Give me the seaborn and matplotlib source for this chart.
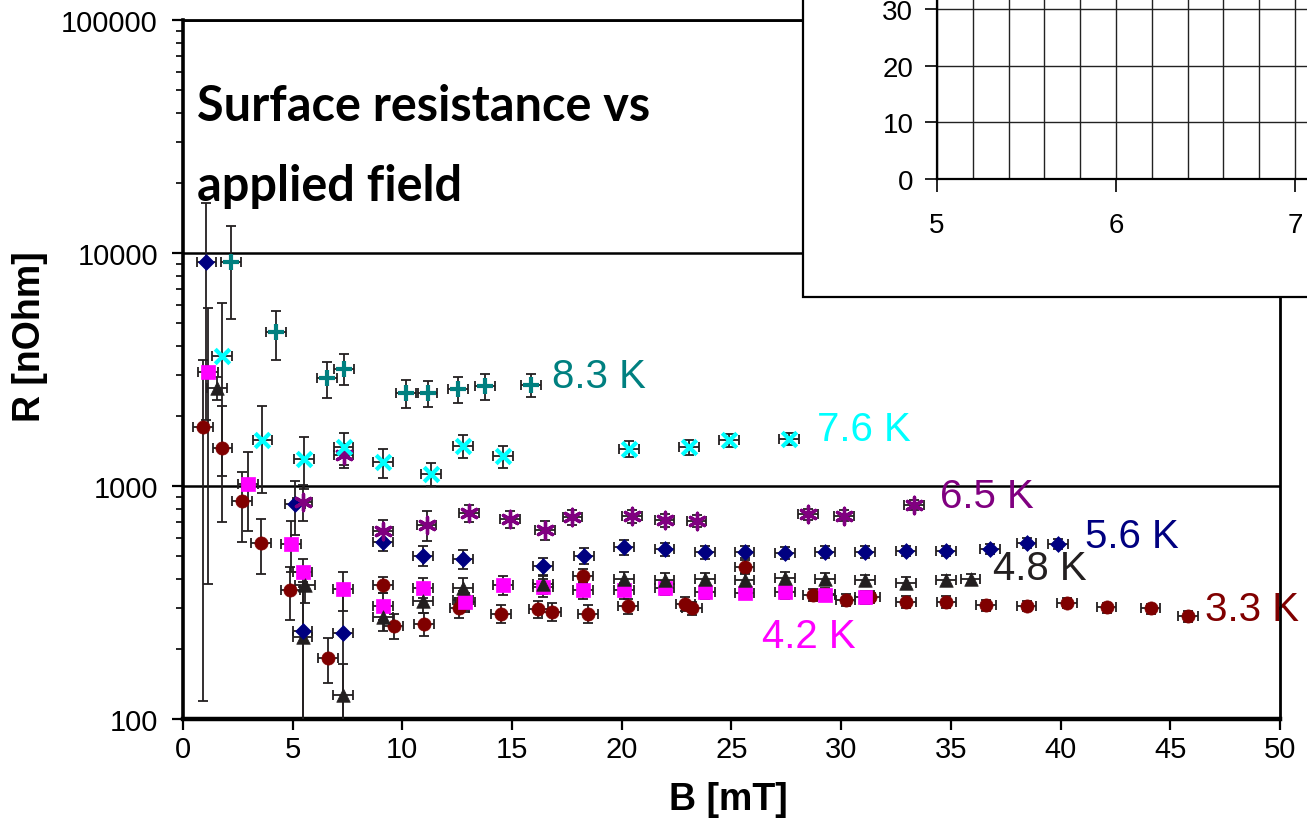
import numpy as np
import matplotlib
matplotlib.use("Agg")
import matplotlib.pyplot as plt
import seaborn as sns
from matplotlib.patches import Rectangle

# surface resistance R [nOhm] vs applied field B [mT], one set per temperature
b_33 = [0.9, 1.8, 2.7, 3.55, 4.9, 6.6, 9.1, 9.6, 11.0, 12.6, 12.75, 14.5, 16.2, 16.8, 18.25, 18.45,
        20.3, 22.9, 23.2, 25.6, 28.7, 29.25, 30.2, 31.3, 32.95, 34.8, 36.6, 38.45, 40.3, 42.1, 44.1, 45.8]
r_33 = [1790, 1450, 860, 570, 357, 183, 376, 251, 256, 300, 325, 283, 297, 289, 412, 283,
        305, 312, 299, 451, 340, 344, 324, 335, 318, 318, 308, 306, 315, 301, 298, 276]
e_33 = [1670, 750, 285, 150, 90, 40, 30, 30, 30, 30, 30, 25, 25, 25, 30, 25,
        22, 22, 20, 28, 20, 20, 20, 20, 18, 18, 16, 16, 16, 15, 15, 14]

b_42 = [1.15, 2.95, 4.92, 5.45, 7.28, 9.13, 10.95, 12.85, 14.6, 16.42, 18.25, 20.1, 21.95, 23.8,
        25.6, 27.44, 29.26, 31.08]
r_42 = [3080, 1020, 566, 428, 360, 306, 366, 318, 377, 367, 356, 356, 365, 350, 348, 350, 340, 333]
e_42 = [2700, 380, 140, 60, 68, 40, 35, 30, 35, 33, 30, 28, 25, 24, 22, 22, 20, 20]

b_48 = [1.56, 5.45, 5.56, 7.28, 9.1, 10.95, 12.78, 16.42, 20.1, 21.95, 23.8, 25.6, 27.44, 29.26,
        31.08, 32.95, 34.78, 35.9]
r_48 = [2640, 224, 376, 127, 273, 320, 366, 380, 399, 395, 399, 393, 402, 399, 393, 383, 393, 399]
e_48 = [300, 130, 60, 45, 35, 35, 35, 35, 30, 28, 26, 25, 24, 24, 22, 22, 20, 20]

b_56 = [1.07, 5.12, 5.45, 7.3, 9.1, 10.95, 12.78, 16.42, 18.28, 20.1, 21.95, 23.8, 25.6, 27.44,
        29.26, 31.08, 32.95, 34.78, 36.78, 38.45, 39.9]
r_56 = [9120, 835, 239, 234, 577, 502, 486, 452, 502, 546, 537, 519, 522, 516, 522, 522, 527, 527,
        537, 568, 564]
e_56 = [7200, 220, 150, 140, 50, 50, 45, 40, 40, 38, 35, 32, 30, 30, 30, 30, 28, 28, 28, 28, 28]

b_65 = [5.45, 7.32, 9.1, 11.1, 13.05, 14.9, 16.5, 17.75, 20.48, 21.95, 23.41, 28.5, 30.14, 33.32]
r_65 = [855, 1358, 643, 680, 764, 721, 647, 734, 741, 711, 709, 758, 746, 828]
e_65 = [150, 160, 70, 100, 65, 60, 60, 55, 50, 45, 45, 40, 40, 40]

b_76 = [1.79, 3.62, 5.5, 7.32, 9.1, 11.3, 12.78, 14.6, 20.33, 23.08, 24.89, 27.63]
r_76 = [3600, 1575, 1300, 1466, 1265, 1127, 1489, 1340, 1443, 1466, 1574, 1592]
e_76 = [2500, 640, 330, 230, 180, 130, 170, 140, 110, 110, 100, 90]

b_83 = [2.2, 4.24, 6.56, 7.34, 10.16, 11.15, 12.55, 13.76, 15.85]
r_83 = [9120, 4560, 2900, 3190, 2506, 2506, 2606, 2680, 2711]
e_83 = [3900, 1100, 510, 490, 340, 320, 330, 330, 300]

B_ERR = 0.45  # field uncertainty, mT

series = [
    # label, B, R, err, color, marker, size, lw, label position
    ("3.3 K", b_33, r_33, e_33, "#800000", "o", 90, 0.5, (46.6, 297)),
    ("4.2 K", b_42, r_42, e_42, "#FF00FF", "s", 90, 0.5, (26.4, 226)),
    ("4.8 K", b_48, r_48, e_48, "#231F20", "^", 95, 0.5, (36.9, 445)),
    ("5.6 K", b_56, r_56, e_56, "#000080", "D", 65, 0.5, (41.1, 610)),
    ("6.5 K", b_65, r_65, e_65, "#800080", (6, 2, 0), 140, 2.4, (34.5, 905)),
    ("7.6 K", b_76, r_76, e_76, "#00FFFF", "x", 110, 3.0, (28.9, 1760)),
    ("8.3 K", b_83, r_83, e_83, "#008080", "+", 140, 3.0, (16.8, 2960)),
]

sns.set_theme(style="ticks")
plt.rcParams['font.family'] = ['Liberation Sans', 'DejaVu Sans']
plt.rcParams.update({'text.color': 'black', 'axes.labelcolor': 'black',
                     'xtick.color': 'black', 'ytick.color': 'black',
                     'xtick.labelcolor': 'black', 'ytick.labelcolor': 'black'})

fig = plt.figure(figsize=(13.07, 8.29), dpi=100)
ax = fig.add_axes([0.1400, 0.1315, 0.8393, 0.8432])

for name, b, r, e, col, mk, s, lw, pos in series:
    ax.errorbar(b, r, yerr=e, xerr=B_ERR, fmt='none', ecolor='#231F20',
                elinewidth=1.3, capsize=3.6, capthick=1.3, zorder=3)
for name, b, r, e, col, mk, s, lw, pos in series:
    sns.scatterplot(x=b, y=r, marker=mk, color=col, s=s, linewidth=lw,
                    edgecolor=col, ax=ax, zorder=4, legend=False)
    ax.text(pos[0], pos[1], name, color=col, fontsize=29, ha='left', va='center',
            clip_on=False, zorder=1)

ax.set_yscale('log')
ax.set_xlim(0, 50)
ax.set_ylim(100, 100000)
ax.set_xticks(np.arange(0, 51, 5))
ax.set_yticks([100, 1000, 10000, 100000])
ax.set_yticklabels(['100', '1000', '10000', '100000'])
ax.yaxis.grid(True, which='major', color='black', linewidth=1.8)
ax.xaxis.grid(False)
ax.tick_params(axis='both', which='major', labelsize=21, length=8, width=1.6,
               color='black', labelcolor='black', direction='out')
ax.tick_params(axis='y', which='major', pad=10)
ax.tick_params(axis='y', which='minor', length=5, width=1.2, color='black', left=True)
for side, w in [('left', 2.6), ('bottom', 3.2), ('top', 2.0), ('right', 2.0)]:
    ax.spines[side].set_linewidth(w)
    ax.spines[side].set_color('black')

ax.set_xlabel('B [mT]', fontsize=27, fontweight='bold', va='center', color='black')
ax.set_ylabel('R [nOhm]', fontsize=27, fontweight='bold', va='center', color='black')
ax.xaxis.set_label_coords(0.497, -0.114)
ax.yaxis.set_label_coords(-0.1395, 0.548)

fig.text(197 / 1307, 1 - 84 / 829, 'Surface resistance vs\napplied field', fontsize=35,
         fontweight='bold', family=['Lato', 'DejaVu Sans'], ha='left', va='top',
         linespacing=1.95, color='black')

# inset panel cropped at the top right corner
box = Rectangle((803 / 1307, 1 - 298 / 829), 0.5, 0.5, transform=fig.transFigure,
                facecolor='white', edgecolor='black', linewidth=1.6, zorder=2)
fig.add_artist(box)
axi = fig.add_axes([937 / 1307, 1 - 180 / 829, 370 / 1307, 180 / 829], zorder=3)
axi.set_facecolor('white')
axi.set_xlim(5, 7.067)
axi.set_ylim(0, 31.76)
axi.set_xticks([5, 6, 7])
axi.set_xticks(np.arange(5, 7.1, 0.2), minor=True)
axi.set_yticks([0, 10, 20, 30])
axi.grid(True, which='both', axis='x', color='#222222', linewidth=1.0)
axi.grid(True, which='major', axis='y', color='#222222', linewidth=1.0)
axi.tick_params(axis='both', which='major', labelsize=20, length=9, width=1.2,
                color='black', labelcolor='black', direction='out')
axi.tick_params(axis='x', which='major', pad=15)
axi.tick_params(axis='y', which='major', pad=8)
axi.tick_params(axis='x', which='minor', length=0)
for side in ['top', 'right']:
    axi.spines[side].set_visible(False)
for side in ['left', 'bottom']:
    axi.spines[side].set_linewidth(1.6)
    axi.spines[side].set_color('black')

fig.savefig('out.png', dpi=100)
